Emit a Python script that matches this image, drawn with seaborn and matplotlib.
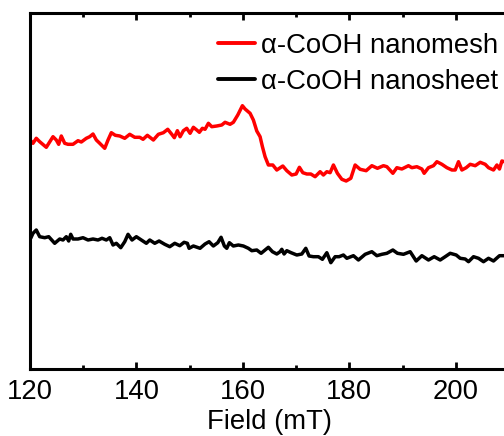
import matplotlib
matplotlib.use("Agg")
import matplotlib.pyplot as plt
from matplotlib.ticker import MultipleLocator
from matplotlib.lines import Line2D
import numpy as np
import pandas as pd
import seaborn as sns

# ---- data ----
mesh_field = [120.13, 120.56, 121.18, 121.82, 123.06, 124.32, 124.94, 125.39, 125.88, 126.52,
              127.14, 128.08, 129.02, 129.64, 130.58, 131.22, 131.84, 132.46, 133.10, 134.04,
              134.66, 135.28, 136.03, 136.86, 137.80, 138.74, 139.68, 140.62, 141.24, 142.05,
              143.18, 144.12, 145.06, 145.88, 146.64, 147.12, 147.69, 148.20, 148.82, 149.45,
              150.08, 150.70, 151.33, 151.82, 152.39, 152.89, 153.52, 154.15, 155.09, 156.03,
              156.65, 157.59, 158.21, 159.04, 159.91, 160.41, 161.35, 161.97, 162.61, 163.23,
              163.67, 164.17, 164.79, 165.62, 166.37, 167.50, 168.25, 169.19, 170.00, 170.62,
              171.26, 172.01, 172.76, 173.57, 174.51, 175.13, 175.77, 176.39, 177.01, 177.76,
              178.59, 179.40, 180.28, 181.09, 182.03, 183.16, 184.23, 185.28, 186.41, 187.05,
              188.18, 188.93, 189.87, 191.11, 191.75, 192.69, 193.63, 194.06, 194.87, 195.81,
              196.45, 197.39, 198.33, 199.27, 199.89, 200.51, 201.15, 201.95, 202.71, 203.65,
              204.59, 205.53, 206.15, 207.09, 207.73, 208.21, 208.67, 209.10, 210.00]
mesh_int = [228.3, 225.7, 230.7, 227.3, 221.7, 232.3, 229.0, 224.7, 233.0, 225.7,
            224.7, 224.7, 228.3, 227.0, 230.7, 232.3, 235.0, 229.0, 225.7, 220.7,
            229.0, 236.3, 233.7, 233.0, 230.7, 234.7, 231.7, 231.7, 229.7, 233.7,
            229.0, 234.7, 236.3, 239.7, 234.7, 231.3, 238.3, 232.3, 238.3, 240.7,
            235.7, 241.7, 239.0, 236.7, 240.7, 239.7, 245.7, 242.3, 243.0, 244.0,
            246.7, 244.7, 246.7, 254.0, 263.3, 260.0, 255.7, 249.0, 238.0, 232.3,
            222.3, 212.3, 204.0, 204.0, 199.0, 203.0, 198.3, 194.0, 195.0, 201.7,
            196.3, 195.0, 195.0, 192.3, 197.3, 194.0, 197.3, 196.3, 204.0, 195.7,
            189.7, 188.0, 190.7, 204.0, 199.7, 198.3, 203.3, 200.7, 203.3, 202.3,
            195.7, 201.3, 200.0, 203.3, 201.3, 202.3, 200.0, 195.7, 201.3, 203.3,
            207.3, 204.7, 201.3, 199.0, 199.0, 207.3, 199.0, 201.3, 204.7, 203.3,
            206.7, 204.7, 201.3, 199.0, 204.0, 200.0, 208.0, 207.3, 207.0]

sheet_field = [120.13, 120.56, 121.18, 121.82, 122.76, 123.52, 124.64, 125.58, 126.20, 126.82,
               127.27, 127.65, 128.08, 129.02, 129.96, 130.90, 131.84, 132.78, 133.53, 134.34,
               134.98, 135.60, 136.22, 137.05, 137.80, 138.42, 139.17, 139.98, 140.92, 141.86,
               142.50, 143.44, 144.25, 145.32, 146.26, 147.20, 148.14, 148.95, 149.57, 149.89,
               150.70, 151.95, 152.89, 153.65, 154.45, 155.28, 155.90, 156.52, 156.97, 157.46,
               158.21, 159.15, 160.09, 161.03, 161.67, 162.61, 163.42, 164.17, 164.79, 165.55,
               166.37, 166.99, 167.31, 167.74, 168.25, 169.06, 170.13, 171.07, 171.82, 172.44,
               173.25, 174.19, 174.94, 175.77, 176.52, 177.33, 178.08, 178.89, 179.53, 180.77,
               181.71, 182.97, 184.23, 185.17, 186.11, 187.05, 188.18, 189.04, 190.17, 191.43,
               192.56, 193.63, 194.87, 195.94, 197.07, 198.01, 198.95, 200.08, 200.83, 201.77,
               202.39, 203.33, 204.27, 205.21, 206.15, 207.09, 208.21, 208.97, 210.00]
sheet_int = [130.7, 135.7, 139.0, 132.3, 131.3, 132.3, 125.7, 130.0, 129.0, 132.3,
             128.0, 134.7, 130.0, 130.0, 131.3, 129.0, 130.0, 129.0, 130.7, 129.0,
             131.3, 124.0, 125.7, 121.3, 127.3, 134.7, 129.0, 132.3, 129.0, 125.7,
             129.0, 125.7, 128.0, 124.7, 122.3, 125.7, 123.3, 126.7, 125.7, 120.7,
             123.0, 120.7, 125.0, 127.3, 123.0, 126.3, 131.7, 123.0, 120.7, 126.3,
             123.0, 124.0, 123.0, 120.7, 118.3, 119.0, 115.7, 119.0, 121.7, 117.3,
             115.0, 117.3, 119.7, 115.0, 118.3, 116.3, 114.0, 115.0, 120.7, 113.0,
             112.3, 112.3, 109.7, 116.3, 106.3, 112.3, 112.3, 114.0, 110.7, 113.3,
             109.0, 114.7, 117.3, 113.3, 114.7, 115.7, 119.0, 115.7, 114.7, 117.3,
             108.0, 113.3, 109.0, 112.3, 109.0, 112.3, 115.7, 114.0, 110.7, 110.0,
             107.3, 112.3, 110.7, 107.3, 110.7, 108.0, 113.3, 113.3, 113.0]

labels = ["α-CoOH nanomesh", "α-CoOH nanosheet"]
colors = ["#ff0000", "#000000"]
x_ticks = [120, 140, 160, 180, 200]
x_label = "Field (mT)"

df = pd.concat([
    pd.DataFrame({"field": mesh_field, "intensity": mesh_int, "sample": labels[0]}),
    pd.DataFrame({"field": sheet_field, "intensity": sheet_int, "sample": labels[1]}),
], ignore_index=True)

sns.set_theme(style="ticks")
plt.rcParams["font.family"] = ["Liberation Sans", "DejaVu Sans"]
plt.rcParams["text.color"] = "black"
plt.rcParams["axes.labelcolor"] = "black"
plt.rcParams["xtick.color"] = "black"

FS = 19.8
W, H = 504, 436
fig = plt.figure(figsize=(W / 100, H / 100), dpi=100)
ax = fig.add_axes([30 / W, (H - 369) / H, 479 / W, 356 / H])

sns.lineplot(data=df, x="field", y="intensity", hue="sample",
             palette=dict(zip(labels, colors)), linewidth=2.5,
             sort=False, estimator=None, ax=ax, legend=False)

ax.set_xlim(120, 210)
ax.set_ylim(0, 356)
ax.set_xticks(x_ticks)
ax.xaxis.set_minor_locator(MultipleLocator(10))
ax.set_yticks([])
ax.set_ylabel("")
ax.set_xlabel(x_label, fontsize=FS, labelpad=3, color="black")

for s in ax.spines.values():
    s.set_linewidth(2.2)
    s.set_color("black")
ax.tick_params(axis="x", which="major", direction="in", length=5, width=2,
               labelsize=FS, pad=7, top=True, colors="black")
ax.tick_params(axis="x", which="minor", direction="in", length=3, width=2, top=True)

handles = [Line2D([], [], color=c, linewidth=2.8) for c in colors]
ax.legend(handles, labels, loc="upper left", frameon=False, fontsize=FS,
          bbox_to_anchor=(218 / W, 1 - 33 / H), bbox_transform=fig.transFigure,
          borderpad=0, borderaxespad=0, handlelength=1.35, handletextpad=0.2,
          labelspacing=0.35)

fig.savefig("out.png", dpi=100)
